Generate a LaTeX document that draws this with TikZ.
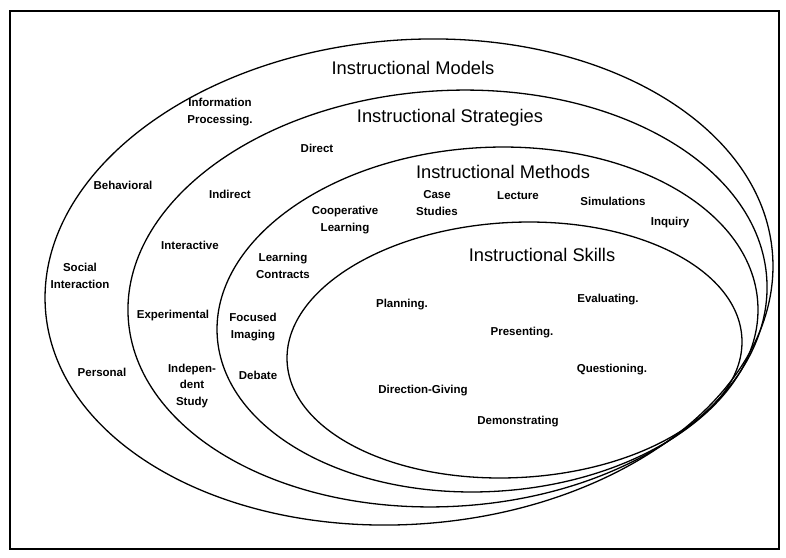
\documentclass[tikz,border=0pt]{standalone}
\usepackage{fontspec}
\setmainfont{Liberation Sans}

\begin{document}
\begin{tikzpicture}[x=1pt, y=-1pt, line width=1.3pt,
    title/.style={font=\fontsize{18.3}{20}\selectfont},
    item/.style={font=\fontsize{11.5}{16.5}\selectfont\bfseries, align=center, inner sep=0pt}]
   \useasboundingbox (0,0) rectangle (786,557);
   \draw[line width=1.6pt] (10,11) rectangle (779,549);

   %rings, outer to inner, slightly tilted
   \draw[rotate around={4.5:(409,282)}] (409,282) ellipse [x radius=364.6pt, y radius=242.1pt];
   \draw[rotate around={3.5:(447.5,298.5)}] (447.5,298.5) ellipse [x radius=319.9pt, y radius=207.9pt];
   \draw[rotate around={3.5:(487.5,319.5)}] (487.5,319.5) ellipse [x radius=270.8pt, y radius=172pt];
   \draw[rotate around={3:(514.5,350)}] (514.5,350) ellipse [x radius=227.7pt, y radius=127.6pt];

   %models
   \node[title] (models) at (413,68) {Instructional Models};
   \node[item] (infoproc) at (220,112) {Information\\Processing.};
   \node[item] (behav) at (123,185) {Behavioral};
   \node[item] (social) at (80,276) {Social\\Interaction};
   \node[item] (personal) at (102,372) {Personal};

   %strategies
   \node[title] (strategies) at (450,118) {Instructional Strategies};
   \node[item] (direct) at (317,148) {Direct};
   \node[item] (indirect) at (230,194) {Indirect};
   \node[item] (interact) at (190,245) {Interactive};
   \node[item] (experim) at (173,316) {Experimental};
   \node[item] (indep) at (192,386) {Indepen-\\dent\\Study};

   %methods
   \node[title] (methods) at (503,172) {Instructional Methods};
   \node[item] (coop) at (345,220) {Cooperative\\Learning};
   \node[item] (case) at (437,203) {Case\\Studies};
   \node[item] (lecture) at (518,196) {Lecture};
   \node[item] (simul) at (613,201) {Simulations};
   \node[item] (inquiry) at (670,223) {Inquiry};
   \node[item] (contract) at (283,266) {Learning\\Contracts};
   \node[item] (focused) at (253,327) {Focused\\Imaging};
   \node[item] (debate) at (258,375) {Debate};

   %skills
   \node[title] (skills) at (542,255) {Instructional Skills};
   \node[item] (planning) at (402,305) {Planning.};
   \node[item] (evaluate) at (608,300) {Evaluating.};
   \node[item] (present) at (522,333) {Presenting.};
   \node[item] (question) at (612,370) {Questioning.};
   \node[item] (dirgiving) at (423,391) {Direction-Giving};
   \node[item] (demo) at (518,422) {Demonstrating};
\end{tikzpicture}
\end{document}
